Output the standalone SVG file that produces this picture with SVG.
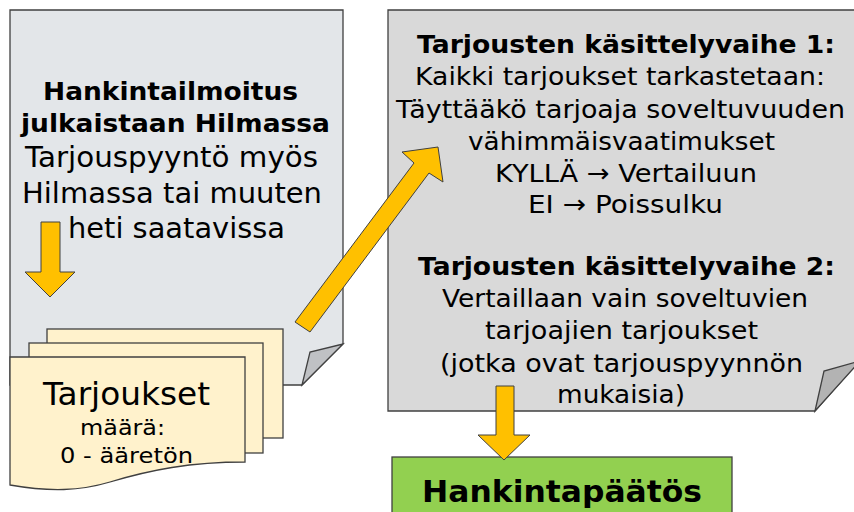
<svg xmlns="http://www.w3.org/2000/svg" width="854" height="512" viewBox="0 0 854 512">
<style>
text{font-family:"DejaVu Sans",Verdana,sans-serif;fill:#000;text-anchor:middle}
.b{font-weight:bold}
.panel{stroke:#404040;stroke-width:1.3}
.curl{stroke:#404040;stroke-width:1.3}
.arrow{fill:#FFC000;stroke:#404040;stroke-width:1}
.page{fill:#FFF2CC;stroke:#404040;stroke-width:1.3}
</style>
<rect width="854" height="512" fill="#fff"/>
<g id="notice">
<path class="panel" d="M10,10 H343 V344 L302,385 H10 Z" fill="#E3E6E9"/>
<path class="curl" d="M302,385 L310,352 L343,344 Z" fill="#BFC1C4"/>
<text class="b" x="170.5" y="100" font-size="24" textLength="255" lengthAdjust="spacingAndGlyphs">Hankintailmoitus</text>
<text class="b" x="175.5" y="132" font-size="24" textLength="309" lengthAdjust="spacingAndGlyphs">julkaistaan Hilmassa</text>
<text x="171.5" y="167" font-size="27.5" textLength="293" lengthAdjust="spacingAndGlyphs">Tarjouspyyntö myös</text>
<text x="172" y="203" font-size="27.5" textLength="300" lengthAdjust="spacingAndGlyphs">Hilmassa tai muuten</text>
<text x="176.5" y="238" font-size="27.5" textLength="217" lengthAdjust="spacingAndGlyphs">heti saatavissa</text>
</g>
<g id="processing">
<path class="panel" d="M860,10 H388 V411 H815 L860,360" fill="#D9D9D9"/>
<path class="curl" d="M815,411 L824,371 L860,361 Z" fill="#B3B3B3"/>
<text class="b" x="626" y="53" font-size="24" textLength="418" lengthAdjust="spacingAndGlyphs">Tarjousten käsittelyvaihe 1:</text>
<text x="620" y="85" font-size="25.5" textLength="410" lengthAdjust="spacingAndGlyphs">Kaikki tarjoukset tarkastetaan:</text>
<text x="620.5" y="118" font-size="25.5" textLength="449" lengthAdjust="spacingAndGlyphs">Täyttääkö tarjoaja soveltuvuuden</text>
<text x="621.5" y="150" font-size="25.5" textLength="307" lengthAdjust="spacingAndGlyphs">vähimmäisvaatimukset</text>
<text x="626" y="182" font-size="25.5" textLength="262" lengthAdjust="spacingAndGlyphs">KYLLÄ → Vertailuun</text>
<text x="625.5" y="213" font-size="25.5" textLength="195" lengthAdjust="spacingAndGlyphs">EI → Poissulku</text>
<text class="b" x="626.5" y="275" font-size="24" textLength="417" lengthAdjust="spacingAndGlyphs">Tarjousten käsittelyvaihe 2:</text>
<text x="625" y="307" font-size="25.5" textLength="366" lengthAdjust="spacingAndGlyphs">Vertaillaan vain soveltuvien</text>
<text x="621.5" y="339" font-size="25.5" textLength="273" lengthAdjust="spacingAndGlyphs">tarjoajien tarjoukset</text>
<text x="621.5" y="372" font-size="25.5" textLength="363" lengthAdjust="spacingAndGlyphs">(jotka ovat tarjouspyynnön</text>
<text x="621" y="403" font-size="25.5" textLength="128" lengthAdjust="spacingAndGlyphs">mukaisia)</text>
</g>
<g id="offers">
<rect class="page" x="47" y="329" width="236" height="109"/>
<rect class="page" x="29" y="343" width="234" height="110"/>
<path class="page" d="M10,357 H245 V462 C190,462 150,470 110,482 C80,491 50,492 10,485 Z"/>
<text x="126.5" y="405" font-size="32" textLength="167" lengthAdjust="spacingAndGlyphs">Tarjoukset</text>
<text x="122.5" y="435" font-size="22" textLength="85" lengthAdjust="spacingAndGlyphs">määrä:</text>
<text x="126.5" y="463" font-size="22" textLength="133" lengthAdjust="spacingAndGlyphs">0 - ääretön</text>
</g>
<g id="decision">
<rect x="392" y="457" width="340" height="70" fill="#92D050" stroke="#404040" stroke-width="1.3"/>
<text class="b" x="562" y="502" font-size="30.5" textLength="280" lengthAdjust="spacingAndGlyphs">Hankintapäätös</text>
</g>
<g id="connectors">
<path class="arrow" d="M41,222 H60 V272 H75 L50,297 L25,272 H41 Z"/>
<path class="arrow" d="M295,322 L414,163 L402,152 L438,147 L443,182 L429,173 L310,332 Z"/>
<path class="arrow" d="M496,386 H514 V435 H530 L504,460 L478,435 H496 Z"/>
</g>
</svg>
